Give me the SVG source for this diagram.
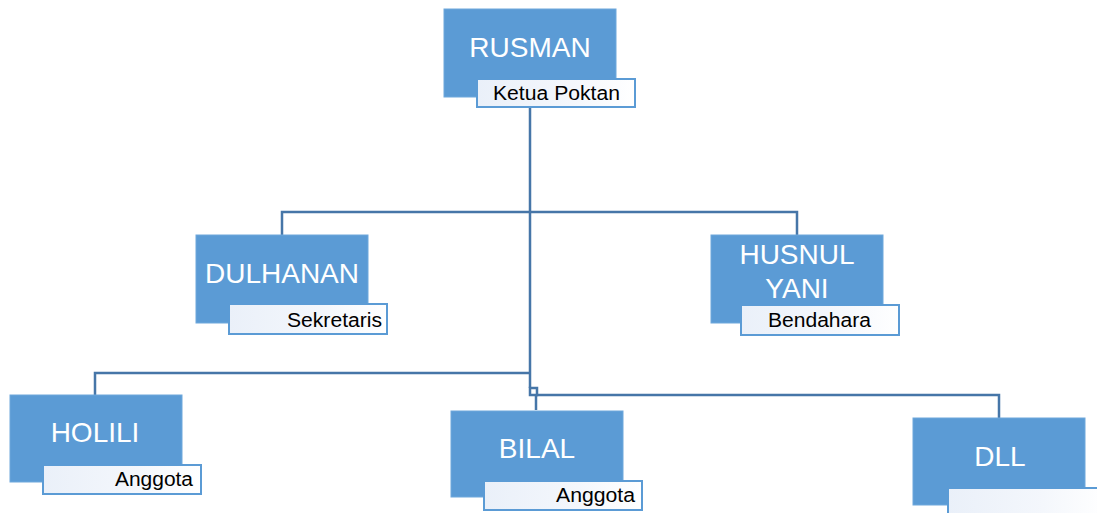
<svg xmlns="http://www.w3.org/2000/svg" width="1097" height="513" viewBox="0 0 1097 513">
<defs>
<linearGradient id="sub" x1="0" y1="0" x2="1" y2="0">
<stop offset="0" stop-color="#EAF0F9"/>
<stop offset="0.6" stop-color="#F4F7FC"/>
<stop offset="1" stop-color="#FFFFFF"/>
</linearGradient>
<style>
.box{fill:#5B9BD5;stroke:#6FA8DC;stroke-width:1}
.sub{fill:url(#sub);stroke:#5B9BD5;stroke-width:2}
.name{font-family:"Liberation Sans",Arial,sans-serif;font-size:28px;fill:#FFFFFF;text-anchor:middle}
.role{font-family:"Liberation Sans",Arial,sans-serif;font-size:20px;fill:#000000}
.conn{fill:none;stroke:#4676A8;stroke-width:2.5}
</style>
</defs>
<rect width="1097" height="513" fill="#FFFFFF"/>
<g id="connectors">
<path class="conn" d="M530,107 V388"/>
<path class="conn" d="M530,212 H282 V235"/>
<path class="conn" d="M530,212 H797 V235"/>
<path class="conn" d="M530,373 H95 V395"/>
<path class="conn" d="M530,388 H537 V395 H530 Z"/>
<path class="conn" d="M537,395 H999 V418"/>
<path class="conn" d="M536,395 V410"/>
</g>
<g id="node-rusman">
<rect class="box" x="444" y="9" width="172" height="88"/>
<rect class="sub" x="477" y="79" width="158" height="28"/>
<text class="name" x="530" y="57">RUSMAN</text>
<text class="role" x="493" y="100" textLength="127" lengthAdjust="spacingAndGlyphs">Ketua Poktan</text>
</g>
<g id="node-dulhanan">
<rect class="box" x="196" y="235" width="172" height="88"/>
<rect class="sub" x="229" y="304" width="158" height="30"/>
<text class="name" x="282" y="283">DULHANAN</text>
<text class="role" x="287" y="327" textLength="95" lengthAdjust="spacingAndGlyphs">Sekretaris</text>
</g>
<g id="node-husnul">
<rect class="box" x="711" y="235" width="172" height="88"/>
<rect class="sub" x="741" y="305" width="158" height="30"/>
<text class="name" x="797" y="264">HUSNUL</text>
<text class="name" x="797" y="298">YANI</text>
<text class="role" x="768" y="327" textLength="103" lengthAdjust="spacingAndGlyphs">Bendahara</text>
</g>
<g id="node-holili">
<rect class="box" x="10" y="395" width="172" height="87"/>
<rect class="sub" x="43" y="465" width="158" height="29"/>
<text class="name" x="95" y="442">HOLILI</text>
<text class="role" x="115" y="486" textLength="78" lengthAdjust="spacingAndGlyphs">Anggota</text>
</g>
<g id="node-bilal">
<rect class="box" x="451" y="411" width="172" height="86"/>
<rect class="sub" x="484" y="481" width="158" height="29"/>
<text class="name" x="537" y="458">BILAL</text>
<text class="role" x="556" y="502" textLength="79" lengthAdjust="spacingAndGlyphs">Anggota</text>
</g>
<g id="node-dll">
<rect class="box" x="913" y="418" width="172" height="87"/>
<rect class="sub" x="948" y="488" width="158" height="30"/>
<text class="name" x="1000" y="466">DLL</text>
</g>
</svg>
